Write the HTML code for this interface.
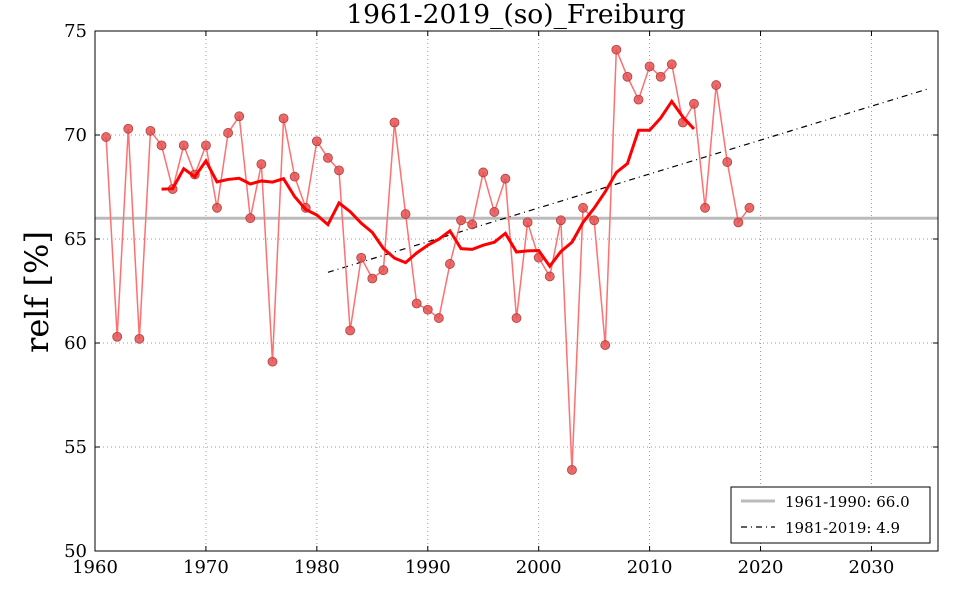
<!DOCTYPE html>
<html><head><meta charset="utf-8"><style>
body{margin:0;background:#fff;}
svg{display:block;font-family:"DejaVu Serif","Liberation Serif",serif;}
</style></head><body>
<svg id="s" width="960" height="600" xmlns="http://www.w3.org/2000/svg"></svg>
<script>
const d=[69.9,60.3,70.3,60.2,70.2,69.5,67.4,69.5,68.1,69.5,66.5,70.1,70.9,66.0,68.6,59.1,70.8,68.0,66.5,69.7,68.9,68.3,60.6,64.1,63.1,63.5,70.6,66.2,61.9,61.6,61.2,63.8,65.9,65.7,68.2,66.3,67.9,61.2,65.8,64.1,63.2,65.9,53.9,66.5,65.9,59.9,74.1,72.8,71.7,73.3,72.8,73.4,70.6,71.5,66.5,72.4,68.7,65.8,66.5];
const L=95,R=938,T=31,B=551;
const X=y=>L+(y-1960)*(R-L)/76, Y=v=>B-(v-50)*(B-T)/25;
let s='';
for(let yr=1970;yr<=2030;yr+=10)s+=`<line x1="${X(yr)}" x2="${X(yr)}" y1="${T}" y2="${B}" stroke="#999" stroke-dasharray="1,3" stroke-width="1"/>`;
for(let v=55;v<=70;v+=5)s+=`<line x1="${L}" x2="${R}" y1="${Y(v)}" y2="${Y(v)}" stroke="#999" stroke-dasharray="1,3" stroke-width="1"/>`;
s+=`<line x1="${L}" x2="${R}" y1="${Y(66)}" y2="${Y(66)}" stroke="#bbb" stroke-width="3"/>`;
s+=`<line x1="${X(1981)}" x2="${X(2035)}" y1="${Y(63.4)}" y2="${Y(72.2)}" stroke="#000" stroke-width="1.2" stroke-dasharray="6,4,1,4"/>`;
let p=d.map((v,i)=>X(1961+i)+','+Y(v)).join(' ');
s+=`<polyline points="${p}" fill="none" stroke="#ff7070" stroke-width="1.5"/>`;
let m=[];for(let i=5;i<d.length-5;i++){let a=0;for(let j=-5;j<=5;j++)a+=d[i+j];m.push(X(1961+i)+','+Y(a/11));}
d.forEach((v,i)=>s+=`<circle cx="${X(1961+i)}" cy="${Y(v)}" r="4.5" fill="#e65050" stroke="#b04040" stroke-width="0.8" fill-opacity="0.85"/>`);
s+=`<polyline points="${m.join(' ')}" fill="none" stroke="#f00" stroke-width="3"/>`;
s+=`<rect x="${L}" y="${T}" width="${R-L}" height="${B-T}" fill="none" stroke="#000" stroke-width="1"/>`;
for(let yr=1960;yr<=2030;yr+=10){s+=`<line x1="${X(yr)}" x2="${X(yr)}" y1="${B}" y2="${B-5}" stroke="#000"/><line x1="${X(yr)}" x2="${X(yr)}" y1="${T}" y2="${T+5}" stroke="#000"/><text x="${X(yr)}" y="${B+22}" font-size="18" text-anchor="middle">${yr}</text>`;}
for(let v=50;v<=75;v+=5){s+=`<line x1="${L}" x2="${L+5}" y1="${Y(v)}" y2="${Y(v)}" stroke="#000"/><line x1="${R}" x2="${R-5}" y1="${Y(v)}" y2="${Y(v)}" stroke="#000"/><text x="${L-8}" y="${Y(v)+6}" font-size="18" text-anchor="end">${v}</text>`;}
s+=`<text x="516" y="23" font-size="26.5" text-anchor="middle">1961-2019_(so)_Freiburg</text>`;
s+=`<text transform="translate(48,292) rotate(-90)" font-size="32" text-anchor="middle">relf [%]</text>`;
s+=`<rect x="731" y="487" width="199" height="56" fill="#fff" stroke="#000"/>`;
s+=`<line x1="741" x2="775" y1="501" y2="501" stroke="#bbb" stroke-width="3"/><text x="785" y="507" font-size="15">1961-1990: 66.0</text>`;
s+=`<line x1="741" x2="775" y1="527" y2="527" stroke="#000" stroke-width="1.2" stroke-dasharray="6,4,1,4"/><text x="785" y="533" font-size="15">1981-2019: 4.9</text>`;
document.getElementById('s').innerHTML=s;
</script>
</body></html>
